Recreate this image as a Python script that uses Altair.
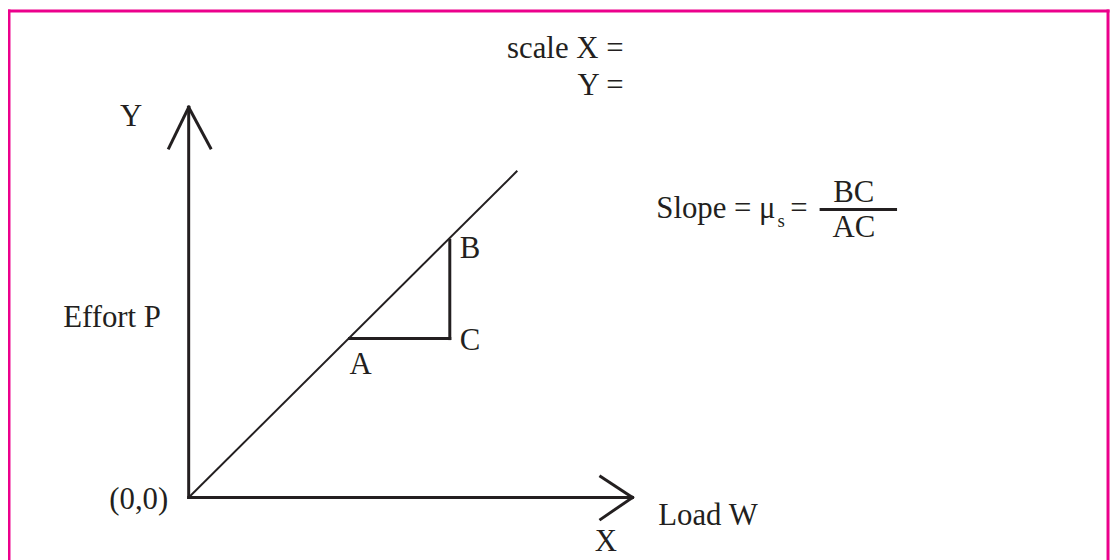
import altair as alt
import pandas as pd

# Coordinates are in the picture's own pixel units (x to the right, y downward)
# Thick black strokes: axes, arrowheads, triangle legs, fraction bar
seg_x1 = [190, 190, 190, 190, 637, 637, 352, 453, 827]
seg_y1 = [499, 106, 106, 499, 499, 499, 339, 339, 209]
seg_x2 = [190, 170, 212, 637, 605, 605, 453, 453, 902]
seg_y2 = [106, 147, 147, 499, 478, 521, 339, 240, 209]

# The load–effort line through the origin
line_x1 = [190]
line_y1 = [499]
line_x2 = [521]
line_y2 = [170]

# Pink frame (left, top, right)
frame_x1 = [9, 9, 1116]
frame_y1 = [9, 9, 9]
frame_x2 = [9, 1116, 1116]
frame_y2 = [575, 9, 575]

# Text labels
txt_label = ["scale X =", "Y =", "Y", "Slope = μ", "s", "=", "BC", "AC",
             "B", "C", "A", "Effort P", "(0,0)", "Load W", "X"]
txt_x = [628, 628, 132, 661, 783, 796, 860, 860, 463, 463, 352, 162, 110, 663, 599]
txt_y = [56, 94, 125, 218, 227, 218, 201, 237, 258, 350, 375, 327, 511, 527, 553]
txt_align = ["right", "right", "center", "left", "left", "left", "center", "center",
             "left", "left", "left", "right", "left", "left", "left"]
txt_size = [31, 31, 31, 31, 19, 31, 31, 31, 31, 31, 31, 31, 31, 31, 31]

W, H = 1110, 552
xs = alt.Scale(domain=[8, 8 + W], nice=False, zero=False)
ys = alt.Scale(domain=[8, 8 + H], nice=False, zero=False, reverse=True)
noax = None

def seg_df(x1, y1, x2, y2):
    return pd.DataFrame({"x": x1, "y": y1, "x2": x2, "y2": y2})

def rules(df, color, width):
    return alt.Chart(df).mark_rule(color=color, strokeWidth=width, strokeCap="square", clip=False).encode(
        x=alt.X("x:Q", scale=xs, axis=noax),
        y=alt.Y("y:Q", scale=ys, axis=noax),
        x2="x2:Q",
        y2="y2:Q",
    )

ink = "#231f20"
thick = rules(seg_df(seg_x1, seg_y1, seg_x2, seg_y2), ink, 3)
diag = alt.Chart(seg_df(line_x1, line_y1, line_x2, line_y2)).mark_rule(color=ink, strokeWidth=2).encode(
    x=alt.X("x:Q", scale=xs, axis=noax),
    y=alt.Y("y:Q", scale=ys, axis=noax),
    x2="x2:Q",
    y2="y2:Q",
)
frame = rules(seg_df(frame_x1, frame_y1, frame_x2, frame_y2), "#ec008c", 3)

tdf = pd.DataFrame({"label": txt_label, "x": txt_x, "y": txt_y,
                    "align": txt_align, "size": txt_size})

def texts(align):
    return alt.Chart(tdf).transform_filter(alt.datum.align == align).mark_text(
        align=align, baseline="alphabetic", font="Liberation Serif", color=ink
    ).encode(
        x=alt.X("x:Q", scale=xs, axis=noax),
        y=alt.Y("y:Q", scale=ys, axis=noax),
        text="label:N",
        size=alt.Size("size:Q", scale=None, legend=None),
    )

chart = alt.layer(frame, thick, diag, texts("left"), texts("center"), texts("right")).properties(
    width=W, height=H, padding=0, autosize=alt.AutoSizeParams(type="none"),
    background="white",
).configure_view(stroke=None)

chart.save("out.html", embed_options={"renderer": "svg", "actions": False})
